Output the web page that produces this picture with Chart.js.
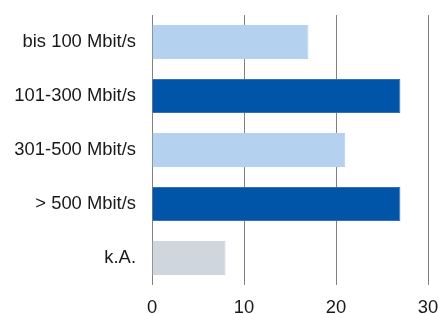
<!DOCTYPE html>
<html>
<head>
<meta charset="utf-8">
<script src="https://cdn.jsdelivr.net/npm/chart.js@4"></script>
<style>
html,body{margin:0;padding:0;background:#fff;}
#wrap{width:438px;height:314px;position:relative;}
</style>
</head>
<body>
<div id="wrap"><canvas id="c"></canvas></div>
<script>
const categories = ["bis 100 Mbit/s", "101-300 Mbit/s", "301-500 Mbit/s", "> 500 Mbit/s", "k.A."];
const values = [17, 27, 21, 27, 8];
const barColors = ["#b4d2f0", "#0055a9", "#b4d2f0", "#0055a9", "#cfd6de"];
const borderColors = ["#b4d2f0", "#3a6fb6", "#b4d2f0", "#3a6fb6", "#cfd6de"];
const xTicks = [0, 10, 20, 30];

new Chart(document.getElementById('c'), {
  type: 'bar',
  data: {
    labels: categories,
    datasets: [{
      data: values,
      backgroundColor: barColors,
      borderColor: borderColors,
      borderWidth: 1,
      barPercentage: 0.63,
      categoryPercentage: 1.0
    }]
  },
  options: {
    indexAxis: 'y',
    responsive: true,
    maintainAspectRatio: false,
    animation: false,
    layout: { padding: { top: 15, right: 10, left: 0, bottom: 0 } },
    plugins: { legend: { display: false }, tooltip: { enabled: false } },
    scales: {
      x: {
        min: 0, max: 30,
        afterBuildTicks: (s) => { s.ticks = xTicks.map(v => ({ value: v })); },
        afterFit: (s) => { s.height = 29; s.paddingLeft = 0; s.paddingRight = 0; },
        grid: { color: '#808080', lineWidth: 1, drawTicks: false },
        border: { display: false },
        ticks: { padding: 12, color: '#1a1a1a', font: { family: 'Liberation Sans, Arial', size: 18.4 } }
      },
      y: {
        afterFit: (s) => { s.width = 152; s.paddingTop = 0; s.paddingBottom = 0; },
        grid: { display: false, drawTicks: false },
        border: { display: false },
        ticks: { padding: 16, color: '#1a1a1a', font: { family: 'Liberation Sans, Arial', size: 18.4 } }
      }
    }
  }
});
</script>
</body>
</html>
